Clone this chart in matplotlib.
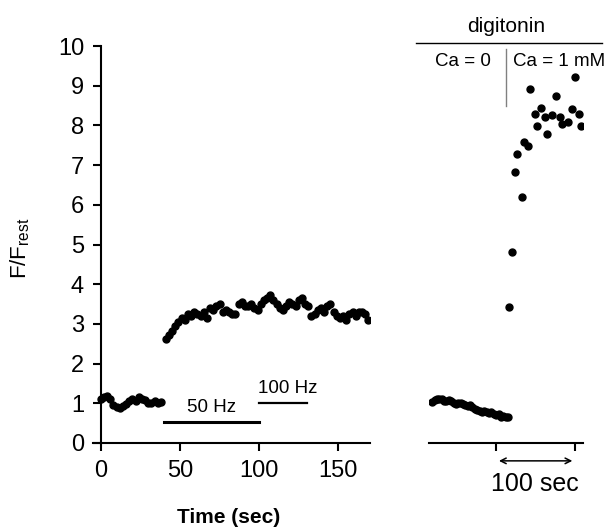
import numpy as np
import matplotlib
matplotlib.use('Agg')
import matplotlib.pyplot as plt

plt.rcParams['font.family'] = ['Liberation Sans', 'DejaVu Sans']
plt.rcParams['mathtext.fontset'] = 'custom'
plt.rcParams['mathtext.rm'] = 'Liberation Sans'

# left panel: stimulation trace
t_rest = np.arange(0, 40, 2)
f_rest = [1.10, 1.15, 1.18, 1.12, 0.95, 0.90, 0.88, 0.92, 0.98, 1.05,
          1.10, 1.05, 1.15, 1.12, 1.08, 1.02, 1.00, 1.05, 1.00, 1.03]
t_stim = np.arange(41, 170, 2)
f_stim = [2.62, 2.72, 2.82, 2.95, 3.05, 3.15, 3.10, 3.25, 3.20, 3.30,
          3.25, 3.20, 3.30, 3.15, 3.40, 3.35, 3.45, 3.50, 3.30, 3.35,
          3.30, 3.25, 3.25, 3.50, 3.55, 3.45, 3.45, 3.50, 3.40, 3.35,
          3.50, 3.60, 3.65, 3.72, 3.60, 3.50, 3.40, 3.35, 3.45, 3.55,
          3.50, 3.45, 3.60, 3.65, 3.50, 3.45, 3.20, 3.25, 3.35, 3.40,
          3.30, 3.45, 3.50, 3.30, 3.20, 3.15, 3.20, 3.10, 3.25, 3.30,
          3.20, 3.30, 3.30, 3.25, 3.10]
bar50 = (40, 100, 0.53)
bar100 = (100, 130, 1.0)

# right panel: digitonin
t_ca0 = np.arange(4, 101, 3)
f_ca0 = [1.03, 1.08, 1.12, 1.12, 1.10, 1.05, 1.05, 1.08, 1.05, 1.00,
         0.98, 1.02, 1.00, 0.98, 0.95, 0.92, 0.95, 0.90, 0.85, 0.82,
         0.80, 0.78, 0.80, 0.78, 0.75, 0.78, 0.72, 0.70, 0.72, 0.66,
         0.68, 0.65, 0.66]
t_ca1 = [101, 105, 109, 111, 118, 120, 125, 128, 134, 137, 142, 147, 149,
         156, 161, 166, 168, 176, 181, 185, 190, 192]
f_ca1 = [3.43, 4.81, 6.83, 7.28, 6.20, 7.58, 7.48, 8.92, 8.29, 7.98, 8.44,
         8.21, 7.78, 8.26, 8.74, 8.21, 8.03, 8.09, 8.41, 9.22, 8.29, 7.98]

fig = plt.figure(figsize=(6.07, 5.27), dpi=100)
ax = fig.add_axes([0.153, 0.1594, 0.4566, 0.7533])
ax2 = fig.add_axes([0.7068, 0.1594, 0.2537, 0.7533])

dot = dict(marker='o', ms=5, ls='none', color='black')
ax.plot(t_rest, f_rest, **dot)
ax.plot(t_stim, f_stim, **dot)
ax.plot(bar50[:2], [bar50[2]] * 2, color='black', lw=2.2)
ax.plot(bar100[:2], [bar100[2]] * 2, color='black', lw=1.6)
ax.text(70, 0.68, '50 Hz', fontsize=13.5, ha='center', va='bottom')
ax.text(118, 1.15, '100 Hz', fontsize=13.5, ha='center', va='bottom')

ax.set_xlim(-5, 170)
ax.set_ylim(0, 10)
ax.spines['left'].set_position(('data', 0))
for s in ['top', 'right']:
    ax.spines[s].set_visible(False)
for s in ['left', 'bottom']:
    ax.spines[s].set_linewidth(1.5)
ax.set_xticks([0, 50, 100, 150])
ax.set_yticks(range(0, 11))
ax.tick_params(direction='out', length=6, width=1.5, labelsize=17, pad=6)
ax.set_xlabel('Time (sec)', fontsize=15, fontweight='bold')
ax.xaxis.set_label_coords(0.49, -0.165)
ax.set_ylabel('F/F$_{\\mathrm{rest}}$', fontsize=16)
ax.yaxis.set_label_coords(-0.22, 0.49)

ax2.plot(t_ca0, f_ca0, **dot)
ax2.plot(t_ca1, f_ca1, **dot)
ax2.set_xlim(0, 195)
ax2.set_ylim(0, 10)
for s in ['top', 'right', 'left']:
    ax2.spines[s].set_visible(False)
ax2.spines['bottom'].set_linewidth(1.5)
ax2.set_yticks([])
ax2.set_xticks([85, 185])
ax2.set_xticklabels([])
ax2.tick_params(direction='out', length=6, width=1.5)

ax2.annotate('', xy=(185, -0.45), xytext=(85, -0.45),
             arrowprops=dict(arrowstyle='<->', color='black', lw=1.1),
             annotation_clip=False)
ax2.text(134, -0.72, '100 sec', fontsize=18, ha='center', va='top')

ax2.plot([-16, 219], [10.07, 10.07], color='black', lw=1.0, clip_on=False)
ax2.text(97.5, 10.5, 'digitonin', fontsize=15, ha='center', va='center')
ax2.plot([97.5, 97.5], [8.49, 9.92], color='gray', lw=1.0, clip_on=False)
ax2.text(43, 9.6, 'Ca = 0', fontsize=13.5, ha='center', va='center')
ax2.text(106, 9.6, 'Ca = 1 mM', fontsize=13.5, ha='left', va='center')

fig.savefig('out.png', dpi=100)
